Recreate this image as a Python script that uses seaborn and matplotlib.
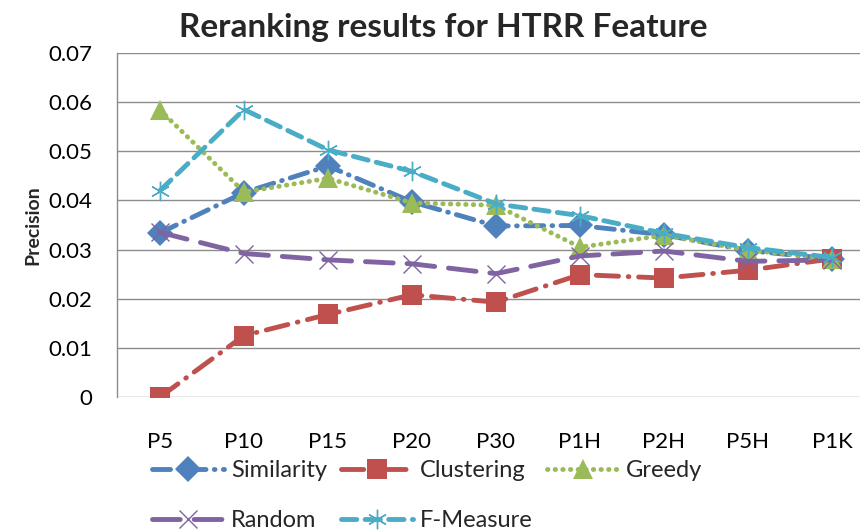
import matplotlib
matplotlib.use("Agg")
import matplotlib.pyplot as plt
import seaborn as sns
import pandas as pd

categories = ["P5", "P10", "P15", "P20", "P30", "P1H", "P2H", "P5H", "P1K"]
similarity = [0.0334, 0.0416, 0.0470, 0.0397, 0.0348, 0.0349, 0.0330, 0.0298, 0.0281]
clustering = [0.0000, 0.0125, 0.0168, 0.0208, 0.0193, 0.0249, 0.0242, 0.0258, 0.0281]
greedy = [0.0584, 0.0417, 0.0445, 0.0395, 0.0390, 0.0305, 0.0329, 0.0299, 0.0281]
random_ = [0.0335, 0.0292, 0.0279, 0.0271, 0.0251, 0.0287, 0.0297, 0.0276, 0.0279]
fmeasure = [0.0420, 0.0585, 0.0503, 0.0459, 0.0393, 0.0369, 0.0333, 0.0304, 0.0284]
yticks = [0, 0.01, 0.02, 0.03, 0.04, 0.05, 0.06, 0.07]
ytick_labels = ["0", "0.01", "0.02", "0.03", "0.04", "0.05", "0.06", "0.07"]

sns.set_theme(style="white")
plt.rcParams["font.family"] = ["Lato", "DejaVu Sans"]
plt.rcParams["lines.scale_dashes"] = False

fig = plt.figure(figsize=(8.6, 5.32), dpi=100)
ax = fig.add_axes([117 / 860, 1 - 397 / 532, 1 - 117 / 860, (397 - 53) / 532])

series = [
    ("Similarity", similarity, "#4F81BD", "D", 13, (0, (13, 6, 0.5, 6)), "none"),
    ("Clustering", clustering, "#C0504D", "s", 14, (0, (16, 7, 0.5, 7)), "none"),
    ("Greedy", greedy, "#9BBB59", "^", 14, (0, (0.3, 5.2)), "none"),
    ("Random", random_, "#8064A2", "x", 13, (0, (20, 10)), None),
    ("F-Measure", fmeasure, "#4BACC6", (6, 2, 0), 14, (0, (11, 6)), None),
]

x_pos = list(range(len(categories)))
for name, vals, color, marker, ms, ls, mec in series:
    df = pd.DataFrame({"x": x_pos, "y": vals})
    sns.lineplot(data=df, x="x", y="y", ax=ax, color=color, linewidth=3.5,
                 linestyle=ls, marker=marker, markersize=ms,
                 markeredgecolor=(color if mec is None else "none"),
                 markeredgewidth=(1.0 if mec is None else 0),
                 label=name, sort=False, dash_capstyle="round",
                 solid_capstyle="round")

ax.set_xlim(-43 / 84, 8 + 28 / 84)
ax.set_ylim(0, 0.07)
ax.set_yticks(yticks)
ax.set_yticklabels(ytick_labels)
ax.set_xticks(x_pos)
ax.set_xticklabels(categories)
ax.grid(axis="y", color="#8c8c8c", linewidth=1.0)
ax.set_axisbelow(True)
for s in ["top", "right", "bottom"]:
    ax.spines[s].set_visible(False)
ax.spines["left"].set_color("#8c8c8c")
ax.spines["left"].set_linewidth(1.0)
ax.tick_params(axis="both", length=0, labelsize=16, colors="#000000")
ax.tick_params(axis="x", pad=25)
ax.tick_params(axis="y", pad=18)
ax.set_xlabel("")
ax.set_ylabel("Precision", fontsize=14, fontweight="bold", labelpad=5)

fig.text(443 / 860, 1 - 27 / 532, "Reranking results for HTRR Feature",
         ha="center", va="center", fontsize=24, fontweight="bold")

if ax.legend_:
    ax.legend_.remove()
handles, labels = ax.get_legend_handles_labels()
order = [0, 3, 1, 4, 2]
leg = fig.legend([handles[i] for i in order], [labels[i] for i in order],
                 ncol=3, loc="upper left",
                 bbox_to_anchor=(152 / 860, 1 - 460 / 532), frameon=False,
                 fontsize=17, handlelength=3.05, handletextpad=0.3,
                 columnspacing=0.6, labelspacing=1.23, borderaxespad=0,
                 borderpad=0)

fig.savefig("out.png", dpi=100)
